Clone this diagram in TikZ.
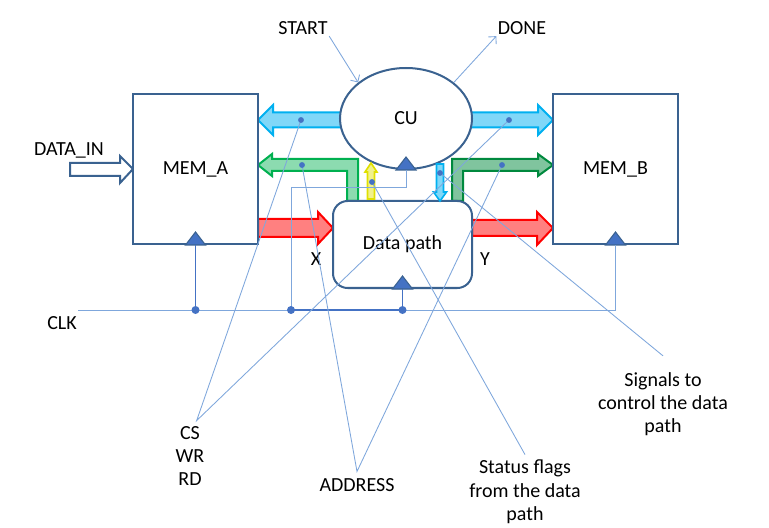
\documentclass[tikz,border=0pt]{standalone}
\usepackage{fontspec}
\setmainfont{Carlito}
\usetikzlibrary{shapes.geometric,arrows.meta}
\definecolor{DPrub}{HTML}{3A6290}
\definecolor{DPlinija}{HTML}{7FA7DC}
\definecolor{DPtocka}{HTML}{4472C4}
\definecolor{DPplava}{HTML}{00B0F0}
\definecolor{DPzelena}{HTML}{00B050}
\definecolor{DPtzelena}{HTML}{00893E}
\definecolor{DPcrvena}{HTML}{FF0000}
\definecolor{DPzuta}{HTML}{E0E000}

\begin{document}
\begin{tikzpicture}[font=\fontsize{15}{17.5}\selectfont,x=.75pt,y=-.75pt,
 blok/.style={draw=DPrub,line width=1.5pt,fill=white,inner sep=0pt},
 tanka/.style={draw=DPlinija,line width=.65pt},
 sat/.style={draw=DPtocka,line width=1.3pt},
 strel/.style={line width=1.5pt},
 lbl/.style={inner sep=1pt,align=center}]
\useasboundingbox (0,0) rectangle (769,528);
\filldraw[strel,draw=DPplava,fill=DPplava!50] (258,120)--(273,105)--(273,112.5)--(342,112.5)--(342,127.5)--(273,127.5)--(273,135)--cycle;
\filldraw[strel,draw=DPplava,fill=DPplava!50] (553,120)--(538,105)--(538,112.5)--(470,112.5)--(470,127.5)--(538,127.5)--(538,135)--cycle;
\filldraw[strel,draw=DPzelena,fill=DPzelena!45] (258,165)--(272,154)--(272,159)--(358,159)--(358,201)--(347,201)--(347,171)--(272,171)--(272,176)--cycle;
\filldraw[strel,draw=DPtzelena,fill=DPtzelena!50] (553,165)--(538,154)--(538,159)--(452,159)--(452,201)--(463,201)--(463,171)--(538,171)--(538,176)--cycle;
\filldraw[strel,draw=DPcrvena,fill=DPcrvena!50] (258,219)--(318,219)--(318,212)--(333,228)--(318,244)--(318,237)--(258,237)--cycle;
\filldraw[strel,draw=DPcrvena,fill=DPcrvena!50] (472,220)--(537,220)--(537,212)--(553,228)--(537,245)--(537,236)--(472,236)--cycle;
\filldraw[strel,draw=DPrub,fill=white] (70,163)--(120,163)--(120,156)--(133,169)--(120,183)--(120,176)--(70,176)--cycle;
\node[blok,minimum width=93.75pt,minimum height=112.5pt] (mema) at (195.5,169) {MEM\_A};
\node[blok,minimum width=93.75pt,minimum height=112.5pt] (memb) at (615.5,169) {MEM\_B};
\node[blok,ellipse,minimum width=99pt,minimum height=75.75pt] (cu) at (406,118.5) {CU};
\node[blok,rounded corners=11pt,minimum width=104.25pt,minimum height=65.25pt] (dp) at (402.5,244.5) {Data path};
\filldraw[line width=1.2pt,draw=DPzuta,fill=DPzuta!45] (367.5,199)--(367.5,172)--(365,172)--(371,163)--(377,172)--(374.5,172)--(374.5,199)--cycle;
\filldraw[line width=1.2pt,draw=DPplava,fill=DPplava!50] (436.5,164)--(443.5,164)--(443.5,192)--(446.5,192)--(440,201)--(433.5,192)--(436.5,192)--cycle;
\foreach \n in {mema,memb,cu,dp}{\filldraw[draw=DPrub,fill=DPtocka,line width=.8pt] (\n.south) ++(-10,0) -- ++(20,0) -- ++(-10,-13) -- cycle;}
\coordinate (clk) at (78,310);
\coordinate (cuclk) at (291,310);
\coordinate (cuzica) at (291,187);
\draw[tanka] (clk) -- (memb.south |- clk) -- (memb.south);
\draw[tanka] (cuclk) -- (cuzica) -- (cuzica -| cu.south) -- (cu.south);
\draw[sat] (cuclk) -- (dp.south |- clk) -- (dp.south);
\draw[sat] (mema.south |- clk) -- (mema.south);
\foreach \t in {mema,dp}{\fill[DPtocka] (\t.south |- clk) circle (3pt);}
\fill[DPtocka] (cuclk) circle (3pt);
\node[lbl] (clklab) at (62,323) {CLK};
\node[lbl] (din) at (69,150) {DATA\_IN};
\node[lbl] (xlab) at (316,259) {X};
\node[lbl] (ylab) at (485,259) {Y};
\node[lbl] (start) at (303,28) {START};
\node[lbl] (done) at (522,28) {DONE};
\node[lbl] (cs) at (190,456) {CS\\WR\\RD};
\node[lbl] (addr) at (357,485) {ADDRESS};
\node[lbl] (stat) at (525,492) {Status flags\\from the data\\path};
\node[lbl] (sig) at (663,404) {Signals to\\control the data\\path};
\foreach \t/\x/\y in {p1/301/120,p2/509/120,z1/302/165,z2/502/165,zu/372/182,pd/440/173}{\coordinate (\t) at (\x,\y);}
\draw[tanka] (p1) -- ([xshift=5pt,yshift=3pt]cs.north) -- (p2);
\draw[tanka] (z1) -- ([yshift=4pt]addr.north) -- (z2);
\draw[tanka] (zu) -- ([yshift=3pt]stat.north);
\draw[tanka] (pd) -- ([yshift=11pt]sig.north);
\draw[tanka,-{Straight Barb[length=4pt]}] (start.south east) -- (cu.143);
\draw[tanka,-{Straight Barb[length=4pt]}] (cu.37) -- (done.south west);
\foreach \t in {p1,p2,z1,z2,zu,pd}{\fill[DPtocka] (\t) circle (2.2pt);}
\end{tikzpicture}
\end{document}
